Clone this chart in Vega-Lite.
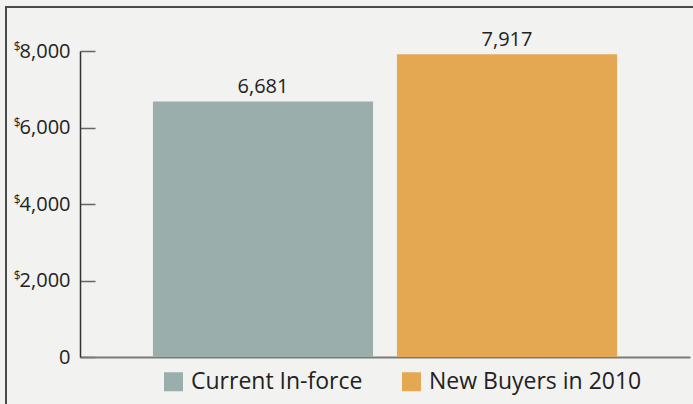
{
  "$schema": "https://vega.github.io/schema/vega-lite/v6.json",
  "width": 687,
  "height": 397,
  "autosize": {"type": "none"},
  "padding": {"left": 6, "top": 7, "right": 0, "bottom": 0},
  "background": "#f2f2f0",
  "config": {"view": {"stroke": "#4a4a4a", "strokeWidth": 2, "strokeDash": [687, 1084, 397, 1]}, "font": "Open Sans"},
  "data": {"values": [
    {"category": "Current In-force", "value": 6681},
    {"category": "New Buyers in 2010", "value": 7917}
  ]},
  "encoding": {
    "x": {"field": "category", "type": "nominal", "sort": null,
      "scale": {"range": [74, 684], "paddingInner": 0.098, "paddingOuter": 0.299},
      "axis": {"title": null, "labels": false, "ticks": false, "offset": -47, "domainColor": "#7a7a7a", "domainWidth": 2}}
  },
  "layer": [
    {
      "mark": {"type": "bar"},
      "encoding": {
        "y": {"field": "value", "type": "quantitative",
          "scale": {"domain": [0, 8000], "nice": false, "range": [350, 44]},
          "axis": {"title": null, "orient": "left", "offset": -74, "values": [0, 2000, 4000, 6000, 8000],
            "labelExpr": "format(datum.value, ',')", "ticks": false, "labelPadding": 10,
            "grid": true, "gridDash": [15, 1000], "gridColor": "#666", "gridWidth": 1.5, "gridOpacity": 1,
            "domainColor": "#333", "domainWidth": 1.5,
            "labelFontSize": 20, "labelColor": "#222"}},
        "color": {"field": "category", "type": "nominal",
          "scale": {"range": ["#9aaeab", "#e4a853"]},
          "legend": {"title": null, "orient": "none", "legendX": 156, "legendY": 363,
            "direction": "horizontal", "symbolType": "square", "symbolSize": 361,
            "symbolStrokeWidth": 0, "labelFontSize": 23, "labelColor": "#222", "labelLimit": 400,
            "columnPadding": 37, "labelOffset": 6}}
      }
    },
    {
      "mark": {"type": "text", "dy": -14, "fontSize": 20, "color": "#222"},
      "encoding": {
        "y": {"field": "value", "type": "quantitative",
          "axis": {"title": null, "orient": "left", "offset": -74, "values": [2000, 4000, 6000, 8000],
            "labelExpr": "'$'", "ticks": false, "domain": false, "grid": false,
            "labelPadding": 60, "labelOffset": -5, "labelFontSize": 12, "labelColor": "#222"}},
        "text": {"field": "value", "type": "quantitative", "format": ","}
      }
    }
  ],
  "resolve": {"axis": {"y": "independent"}}
}
